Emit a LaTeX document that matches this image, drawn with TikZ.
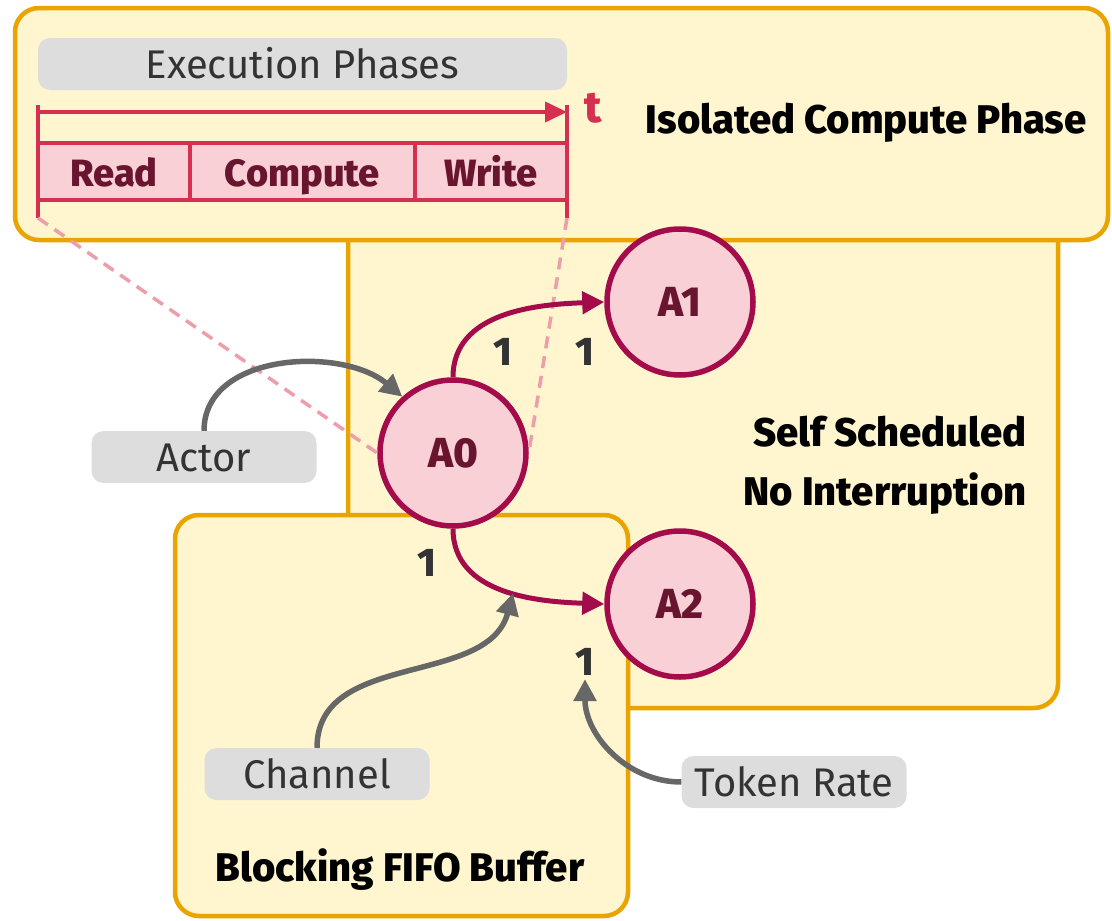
\documentclass[tikz,border=0pt]{standalone}
\usepackage{fontspec}
\setmainfont{Fira Sans}[BoldFont={Fira Sans ExtraBold}]
\usetikzlibrary{arrows.meta}
\definecolor{boxfill}{HTML}{FFF5CF}
\definecolor{boxline}{HTML}{E9A400}
\definecolor{actfill}{HTML}{F8D0D6}
\definecolor{actline}{HTML}{A30B4B}
\definecolor{acttext}{HTML}{6A1530}
\definecolor{phaseline}{HTML}{D63050}
\definecolor{dashpink}{HTML}{EE9DAA}
\definecolor{tagfill}{HTML}{DDDDDD}
\definecolor{tagtext}{HTML}{333333}
\definecolor{tagarrow}{HTML}{676767}
\tikzset{
  region/.style={fill=boxfill, draw=boxline, line width=4.5pt, rounded corners=24pt},
  regionlabel/.style={font=\fontsize{40}{44}\selectfont\bfseries, text=black},
  actor/.style={circle, minimum size=146pt, fill=actfill, draw=actline, line width=5.5pt,
    text=acttext, font=\fontsize{42}{44}\selectfont\bfseries},
  phase/.style={rectangle, minimum height=57pt, fill=actfill, draw=phaseline, line width=4pt,
    text=acttext, font=\fontsize{38}{44}\selectfont\bfseries, text height=33pt, text depth=3pt},
  tag/.style={rectangle, rounded corners=12pt, fill=tagfill, minimum height=52pt, minimum width=225pt,
    text=tagtext, font=\fontsize{40}{44}\selectfont, text height=30pt, text depth=2pt},
  rate/.style={text=tagtext, font=\fontsize{40}{44}\selectfont\bfseries},
  flow/.style={draw=actline, line width=5pt, -{Triangle[length=22pt,width=22pt]}},
  pointer/.style={draw=tagarrow, line width=5.5pt, -{Triangle[length=22pt,width=22pt]}},
  map/.style={draw=dashpink, line width=3.5pt, dash pattern=on 12pt off 8pt},
}
\begin{document}
\begin{tikzpicture}[x=1pt, y=-1pt]
			%%%%% START %%%%%
			\useasboundingbox (0,0) rectangle (1112,921);
			
			% regions
			\draw[region] (348, 150) rectangle (1058, 708);
			\draw[region] (15, 8) rectangle (1108, 240);
			\draw[region] (175, 515) rectangle (628, 916);
			
			\node[regionlabel, anchor=east] (iso) at (1090, 123) {Isolated Compute Phase};
			\node[regionlabel, anchor=east] (self) at (1030, 432) {Self Scheduled};
			\node[regionlabel, anchor=east] (noint) at (1030, 494) {No Interruption};
			\node[regionlabel] (fifo) at (400, 870) {Blocking FIFO Buffer};
			
			% execution phases
			\node[tag, minimum width=529pt] (exec) at (302.5, 64) {Execution Phases};
			\node[phase, minimum width=152pt] (read) at (114, 171.5) {Read};
			\node[phase, minimum width=225pt] (comp) at (302.5, 171.5) {Compute};
			\node[phase, minimum width=152pt] (write) at (491, 171.5) {Write};
			
			\coordinate (t0) at (38, 105);
			\coordinate (t1) at (567, 105);
			\coordinate (b0) at (38, 218);
			\coordinate (b1) at (567, 218);
			\draw[phaseline, line width=4pt] (t0) -- (b0);
			\draw[phaseline, line width=4pt] (t1) -- (b1);
			\draw[phaseline, line width=4pt, -{Triangle[length=22pt,width=20pt]}] (38, 112) -- (567, 112);
			\node[text=phaseline, font=\fontsize{44}{44}\selectfont\bfseries] (tlab) at (593, 108) {t};
			
			% actors
			\node[actor] (a0) at (453, 453) {A0};
			\node[actor] (a1) at (680, 302) {A1};
			\node[actor] (a2) at (680, 604) {A2};
			
			\draw[map] (b0) -- (a0.west);
			\draw[map] (b1) -- (a0.east);
			
			\draw[flow] (a0.north) to[out=90, in=182] (a1.west);
			\draw[flow] (a0.south) to[out=-90, in=178] coordinate[pos=0.55] (chan) (a2.west);
			
			\node[rate] (r1) at (503, 352) {1};
			\node[rate] (r2) at (585, 352) {1};
			\node[rate] (r3) at (427, 563) {1};
			\node[rate] (r4) at (585, 662) {1};
			
			% tags
			\node[tag] (actortag) at (204, 457) {Actor};
			\node[tag] (chantag) at (317, 774) {Channel};
			\node[tag] (ratetag) at (794, 782) {Token Rate};
			
			\draw[pointer] (actortag.north) to[out=90, in=140] (a0.132);
			\draw[pointer] (chantag.north) to[out=90, in=-105] (chan);
			\draw[pointer] (ratetag.west) to[out=180, in=-90] (r4.south);
			
			%%%%% END %%%%%
\end{tikzpicture}
\end{document}
